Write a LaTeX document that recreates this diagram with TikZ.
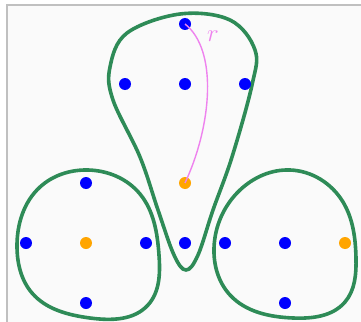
\documentclass[tikz,border=0pt]{standalone}
\usetikzlibrary{hobby}
\begin{document}
\begin{tikzpicture}[x=1pt,y=-1pt,
  blob/.style={draw={rgb,255:red,46;green,139;blue,87},line width=3.6pt},
  bdot/.style={circle,fill={rgb,255:red,0;green,0;blue,255},inner sep=0pt,minimum size=12pt},
  odot/.style={circle,fill={rgb,255:red,255;green,165;blue,0},inner sep=0pt,minimum size=12pt},
  rline/.style={draw={rgb,255:red,238;green,130;blue,238},line width=1.4pt}]
\useasboundingbox (0,0) rectangle (361,321);
\fill[white] (0,0) rectangle (361,321);
\begin{scope}
\clip (0,0) rectangle (361,321);
\filldraw[fill={rgb,255:red,250;green,250;blue,250},draw={rgb,255:red,192;green,192;blue,192},line width=2pt] (6.5,5) rectangle (380,340);
\end{scope}
% blobs
\draw[blob] plot[smooth cycle,tension=0.6] coordinates {(180,14) (230,20) (255,50) (252,85) (232,157) (213,210) (198,255) (186,270) (174,255) (158,210) (140,157) (113,100) (110,67) (127,33)};
\draw[blob] (88,170) to[closed,curve through={(140,194) (159,255) (148,305) (90,318) (32,293) (17,247) (40,187)}] (88,170);
\draw[blob] (290,170) to[closed,curve through={(343,202) (356,258) (345,302) (293,318) (230,295) (214,248) (240,190)}] (290,170);
% dots
\node[bdot] (t0) at (185,24) {};
\node[bdot] (t1) at (125,84) {};
\node[bdot] (t2) at (185,84) {};
\node[bdot] (t3) at (245,84) {};
\node[odot] (tc) at (185,183) {};
\node[bdot] (t4) at (185,243) {};
\node[bdot] (l0) at (86,183) {};
\node[bdot] (l1) at (26,243) {};
\node[odot] (lc) at (86,243) {};
\node[bdot] (l2) at (146,243) {};
\node[bdot] (l3) at (86,303) {};
\node[bdot] (r1) at (225,243) {};
\node[bdot] (r2) at (285,243) {};
\node[odot] (rc) at (345,243) {};
\node[bdot] (r3) at (285,303) {};
% radius line
\draw[rline] (t0.center) .. controls (218,50) and (212,125) .. (tc.center);
\node[text={rgb,255:red,238;green,130;blue,238},font=\fontsize{24}{24}\selectfont] (rl) at (213,36) {$r$};
\end{tikzpicture}
\end{document}
